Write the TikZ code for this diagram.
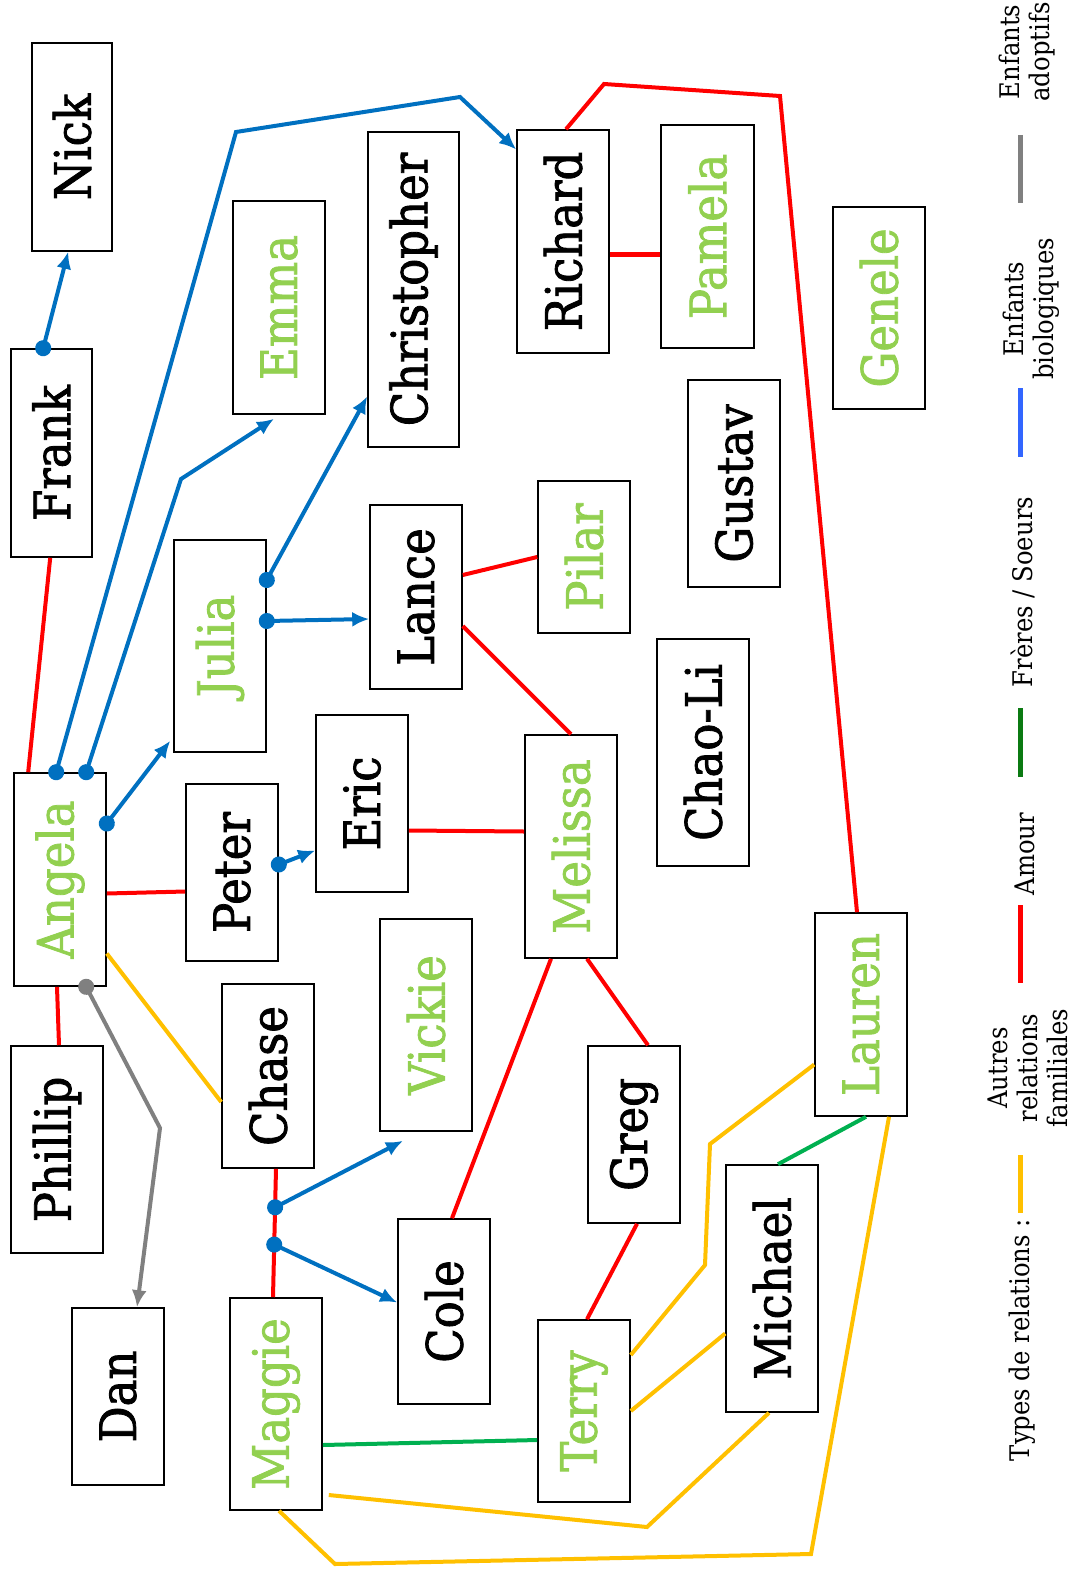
\documentclass[tikz,border=0pt]{standalone}
\usepackage{fontspec}
\setmainfont{DejaVu Serif Condensed}
\newfontfamily\nomfont{DejaVu Serif Condensed}[RawFeature={embolden=1.6}]
\usetikzlibrary{arrows.meta}
\definecolor{fille}{HTML}{92D050}
\definecolor{bleuenf}{HTML}{0070C0}
\definecolor{jaune}{HTML}{FFC000}
\definecolor{vert}{HTML}{00B050}
\definecolor{bleuleg}{HTML}{3366FF}
\definecolor{vertleg}{HTML}{0B7A12}

\begin{document}
\begin{tikzpicture}[x=1pt,y=-1pt,
    pers/.style={draw, line width=1.6pt, inner sep=0pt, font=\nomfont\fontsize{50}{58}\selectfont},
    fem/.style={pers, text=fille},
    love/.style={red, line width=4pt},
    kid/.style={bleuenf, line width=4pt, {Circle[length=16pt]}-{Latex[length=17pt,width=15pt]}, shorten <=-8pt},
    adopt/.style={kid, gray},
    other/.style={jaune, line width=4pt},
    sib/.style={vert, line width=4pt},
    leg/.style={rotate=90, align=center, font=\fontsize{27}{30}\selectfont},
    legbar/.style={line width=5pt}]
    \useasboundingbox (0,0) rectangle (1078,1570);

    % les personnes
    \node[pers, minimum width=80, minimum height=208] (nick) at (72,147) {\rotatebox{90}{Nick}};
    \node[pers, minimum width=81, minimum height=208] (frank) at (51.5,453) {\rotatebox{90}{Frank}};
    \node[fem, minimum width=92, minimum height=213] (emma) at (279,307.5) {\rotatebox{90}{Emma}};
    \node[pers, minimum width=91, minimum height=315] (chris) at (413.5,289.5) {\rotatebox{90}{Christopher}};
    \node[pers, minimum width=92, minimum height=223] (richard) at (563,241.5) {\rotatebox{90}{Richard}};
    \node[fem, minimum width=93, minimum height=223] (pamela) at (707.5,236.5) {\rotatebox{90}{Pamela}};
    \node[fem, minimum width=92, minimum height=202] (genele) at (879,308) {\rotatebox{90}{Genele}};
    \node[pers, minimum width=92, minimum height=207] (gustav) at (734,483.5) {\rotatebox{90}{Gustav}};
    \node[fem, minimum width=92, minimum height=152] (pilar) at (584,557) {\rotatebox{90}{Pilar}};
    \node[pers, minimum width=92, minimum height=184] (lance) at (416,597) {\rotatebox{90}{Lance}};
    \node[fem, minimum width=92, minimum height=212] (julia) at (220,646) {\rotatebox{90}{Julia}};
    \node[pers, minimum width=92, minimum height=227] (chaoli) at (703,752.5) {\rotatebox{90}{Chao-Li}};
    \node[pers, minimum width=92, minimum height=177] (eric) at (362,803.5) {\rotatebox{90}{Eric}};
    \node[fem, minimum width=92, minimum height=223] (melissa) at (571,846.5) {\rotatebox{90}{Melissa}};
    \node[pers, minimum width=92, minimum height=177] (peter) at (232,872.5) {\rotatebox{90}{Peter}};
    \node[fem, minimum width=92, minimum height=213] (angela) at (60,879.5) {\rotatebox{90}{Angela}};
    \node[fem, minimum width=92, minimum height=212] (vickie) at (426,1025) {\rotatebox{90}{Vickie}};
    \node[pers, minimum width=92, minimum height=184] (chase) at (268,1076) {\rotatebox{90}{Chase}};
    \node[fem, minimum width=92, minimum height=203] (lauren) at (861,1014.5) {\rotatebox{90}{Lauren}};
    \node[pers, minimum width=92, minimum height=177] (greg) at (634,1134.5) {\rotatebox{90}{Greg}};
    \node[pers, minimum width=92, minimum height=207] (phillip) at (57,1149.5) {\rotatebox{90}{Phillip}};
    \node[pers, minimum width=92, minimum height=247] (michael) at (772,1288.5) {\rotatebox{90}{Michael}};
    \node[pers, minimum width=92, minimum height=185] (cole) at (444,1311.5) {\rotatebox{90}{Cole}};
    \node[pers, minimum width=92, minimum height=177] (dan) at (118,1396.5) {\rotatebox{90}{Dan}};
    \node[fem, minimum width=92, minimum height=212] (maggie) at (276,1404) {\rotatebox{90}{Maggie}};
    \node[fem, minimum width=92, minimum height=182] (terry) at (584,1411) {\rotatebox{90}{Terry}};

    % amour
    \draw[love] ([xshift=40]frank.south west) -- ([xshift=15]angela.north west);
    \draw[love] ([yshift=-14]angela.east) -- ([yshift=-19]peter.west);
    \draw[love] ([xshift=-3]angela.south) -- ([xshift=2]phillip.north);
    \draw[love] ([yshift=-27]eric.east) -- ([yshift=15]melissa.west);
    \draw[love] ([yshift=22]lance.east) -- (pilar.west);
    \draw[love] ([yshift=-29]lance.east) -- (melissa.north);
    \draw[love] ([xshift=-20]melissa.south) -- ([xshift=8]cole.north);
    \draw[love] ([xshift=16]melissa.south) -- ([xshift=14]greg.north);
    \draw[love] ([xshift=3]greg.south) -- ([xshift=3]terry.north);
    \draw[love] ([yshift=-13]richard.east) -- ([yshift=-18]pamela.west);
    \draw[love] ([xshift=3]richard.north) -- (604,84) -- (780,96) -- ([xshift=-4]lauren.north);
    \draw[love] ([xshift=8]chase.south) -- coordinate[pos=0.3] (k1) coordinate[pos=0.59] (k2) ([xshift=-3]maggie.north);

    % enfants biologiques
    \draw[kid] ([xshift=33]frank.north west) -- ([xshift=37]nick.south west);
    \draw[kid] ([xshift=43]angela.north west) -- (236,132) -- (460,97) -- ([yshift=92]richard.west);
    \draw[kid] ([xshift=73]angela.north west) -- (181,479) -- ([xshift=-5,yshift=-4]emma.south);
    \draw[kid] ([yshift=56]angela.east) -- ([xshift=-3,yshift=12]julia.south west);
    \draw[kid] ([yshift=66]julia.east) -- ([yshift=-107]chris.west);
    \draw[kid] ([yshift=25]julia.east) -- ([yshift=-22]lance.west);
    \draw[kid] ([yshift=8]peter.east) -- ([yshift=-47]eric.west);
    \draw[kid] (k1) -- ([xshift=-23,yshift=-9]vickie.south);
    \draw[kid] (k2) -- ([yshift=9]cole.west);
    % enfant adoptif
    \draw[adopt] ([xshift=73]angela.south west) -- (160,1128) -- ([xshift=19]dan.north);

    % autres relations familiales
    \draw[other] ([yshift=-74]angela.east) -- ([yshift=-26]chase.west);
    \draw[other] ([yshift=-50]lauren.west) -- (710,1144) -- (705,1265) -- ([yshift=56]terry.east);
    \draw[other] ([yshift=-45]michael.west) -- (terry.east);
    \draw[other] ([xshift=6,yshift=-91]maggie.east) -- (647,1527) -- ([xshift=-3]michael.south);
    \draw[other] ([xshift=3]maggie.south) -- (335,1564) -- (811,1554) -- ([xshift=28]lauren.south);

    % freres / soeurs
    \draw[sib] ([yshift=-41]maggie.east) -- ([yshift=-29]terry.west);
    \draw[sib] ([xshift=5]lauren.south) -- ([xshift=6]michael.north);

    % legende
    \node[leg] (lgadopt) at (1027,52) {Enfants\\adoptifs};
    \draw[legbar, gray] (1020,135) -- (1020,203);
    \node[leg] (lgbio) at (1031,309) {Enfants\\biologiques};
    \draw[legbar, bleuleg] (1020,388) -- (1020,457);
    \node[leg] (lgsib) at (1023,592) {Frères / Soeurs};
    \draw[legbar, vertleg] (1020,708) -- (1020,777);
    \node[leg] (lglove) at (1025,854) {Amour};
    \draw[legbar, red] (1020,905) -- (1020,983);
    \node[leg] (lgother) at (1028,1068) {Autres\\relations\\familiales};
    \draw[legbar, jaune] (1020,1155) -- (1020,1213);
    \node[leg] (lgtitle) at (1022,1340) {Types de relations :};
\end{tikzpicture}
\end{document}
